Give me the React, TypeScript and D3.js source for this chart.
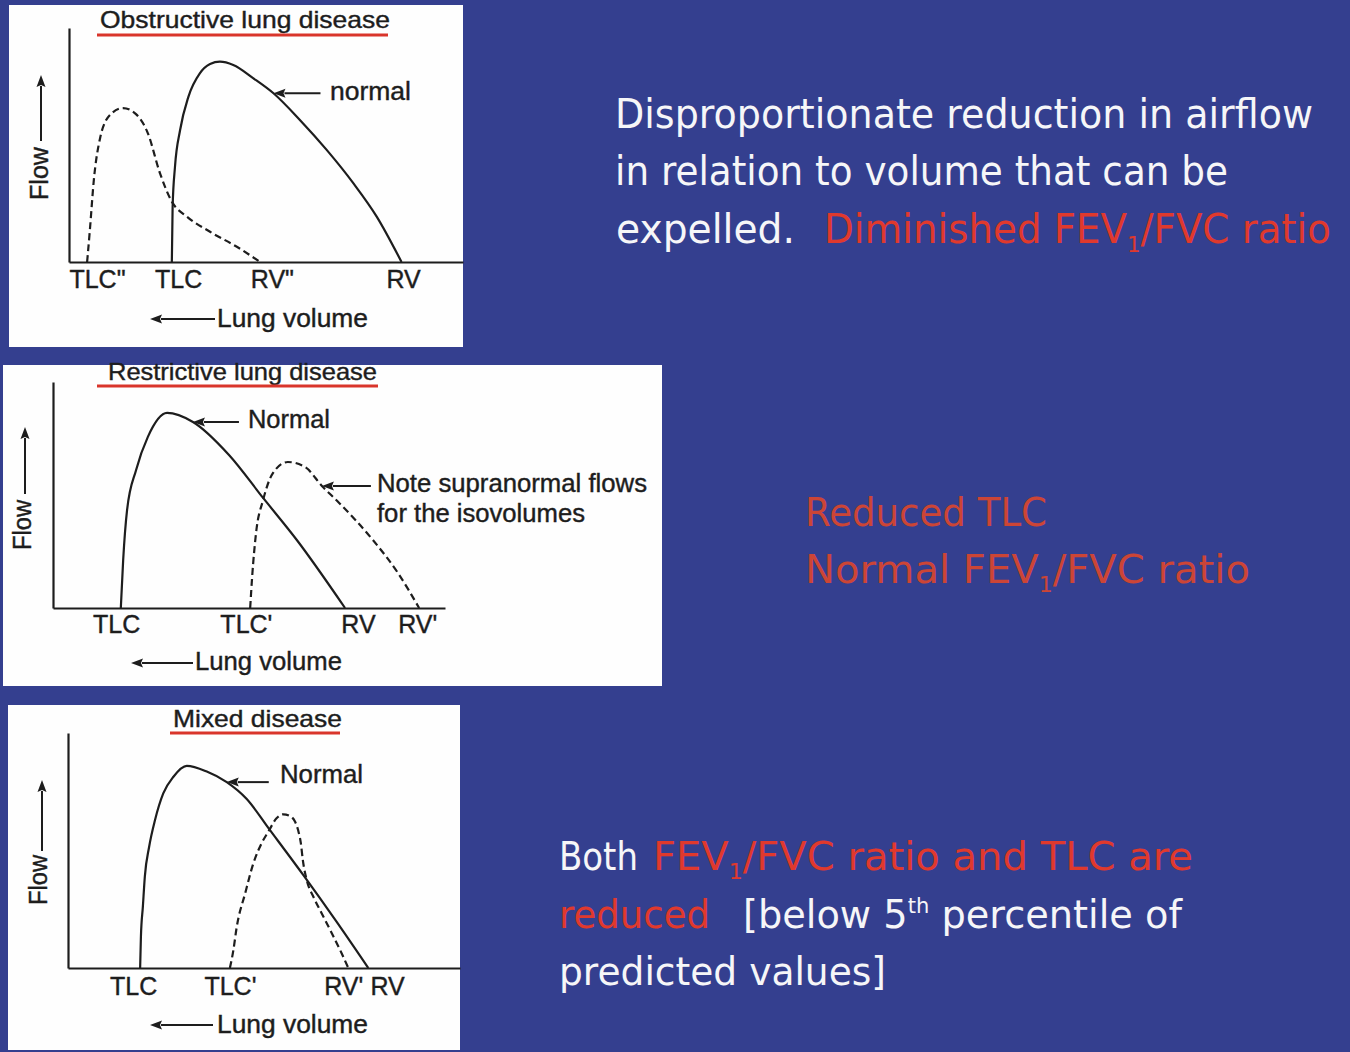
import React, { useRef, useEffect } from 'react';
import * as d3 from 'd3';

const W = 1350;
const H = 1052;
const BG = '#343f8f';
const INK = '#1d1d1d';
const UNDERLINE = '#d9352b';
const WHITE = '#f6f6f8';
const RED = '#e0392d';
const RED_DULL = '#cc4536';
const PANEL_FONT = "'Liberation Sans', Arial, sans-serif";
const SLIDE_FONT = "'DejaVu Sans', sans-serif";

// obstructive lung disease (volume / flow in % of axis)
const obstructiveNormalVolume = [26.1, 26.3, 26.9, 28.2, 30.3, 33.2, 35.8, 38.3, 41.7, 46.8, 51.9, 58.6, 65.4, 72.2, 78.1, 84.4];
const obstructiveNormalFlow = [0, 23.6, 40.7, 56.4, 70.6, 80.6, 84.6, 85.6, 84.2, 78.5, 72.1, 60.7, 47.9, 33.6, 19.4, 0];
const obstructiveVolume = [4.6, 5.3, 6.3, 7.9, 10.4, 13.7, 17.0, 20.0, 23.1, 26.1, 29.9, 35.8, 42.6, 48.5];
const obstructiveFlow = [0, 13.7, 35.0, 53.0, 62.8, 65.8, 63.2, 55.1, 37.9, 25.8, 19.4, 12.9, 6.5, 0];
const obstructiveTickLabels = ['TLC"', 'TLC', 'RV"', 'RV'];
const obstructiveTickVolume = [7.1, 27.7, 51.5, 84.8];

// restrictive lung disease
const restrictiveNormalVolume = [17.3, 17.9, 18.9, 21.2, 24.2, 29.1, 35.7, 44.9, 53.6, 62.2, 74.5];
const restrictiveNormalFlow = [0, 21.2, 43.4, 61.1, 75.7, 86.3, 82.3, 67.7, 48.7, 30.1, 0];
const restrictiveVolume = [50.3, 50.8, 51.8, 53.6, 56.1, 59.9, 64.3, 68.6, 73.0, 81.6, 88.0, 93.4];
const restrictiveFlow = [0, 13.7, 33.2, 47.8, 59.7, 64.6, 62.4, 54.0, 46.5, 30.1, 15.5, 0];
const restrictiveTickLabels = ['TLC', "TLC'", 'RV', "RV'"];
const restrictiveTickVolume = [16.1, 49.2, 77.8, 92.9];

// mixed disease
const mixedNormalVolume = [18.4, 18.6, 19.1, 19.6, 20.7, 22.2, 24.3, 26.9, 30.3, 35.4, 40.5, 45.6, 51.1, 60.0, 68.5, 76.6];
const mixedNormalFlow = [0, 13.3, 26.1, 38.9, 51.6, 63.0, 74.3, 81.4, 86.0, 83.6, 79.1, 71.9, 59.6, 39.6, 19.7, 0];
const mixedVolume = [41.3, 42.2, 43.0, 45.2, 47.3, 49.4, 51.1, 53.2, 54.9, 56.6, 57.9, 58.7, 59.4, 59.9, 60.9, 62.6, 64.7, 67.3, 69.8, 71.5];
const mixedFlow = [0, 7.7, 17.0, 31.8, 44.6, 53.1, 58.0, 63.7, 65.4, 64.7, 62.3, 58.7, 53.1, 46.0, 37.4, 30.3, 23.3, 14.8, 6.3, 0];
const mixedTickLabels = ['TLC', "TLC'", "RV'", 'RV'];
const mixedTickVolume = [16.6, 41.3, 70.2, 81.4];

type Note = { at: [number, number]; shaft: number; lines: string[]; tx: number; ty: number; w: number[] };

const panels = [
  {
    box: [9, 5, 454, 342], left: 69, right: 463, bottom: 262, top: 28, tickPad: 8,
    normal: [obstructiveNormalVolume, obstructiveNormalFlow],
    disease: [obstructiveVolume, obstructiveFlow],
    tickLabels: obstructiveTickLabels, tickVolume: obstructiveTickVolume,
    title: 'Obstructive lung disease', titleX: 100, titleY: 28, titleW: 290, ul: [97, 388, 35],
    notes: [{ at: [51.9, 72.1], shaft: 47, lines: ['normal'], tx: 330, ty: 100, w: [81] }] as Note[],
    lung: { tip: 150, tail: 215, y: 319, tx: 217, ty: 327, w: 151 },
    flow: { x: 48, y: 200, w: 53, ax: 41, a0: 141, a1: 75 },
  },
  {
    box: [3, 365, 659, 321], left: 53, right: 445, bottom: 608, top: 382, tickPad: 7,
    normal: [restrictiveNormalVolume, restrictiveNormalFlow],
    disease: [restrictiveVolume, restrictiveFlow],
    tickLabels: restrictiveTickLabels, tickVolume: restrictiveTickVolume,
    title: 'Restrictive lung disease', titleX: 108, titleY: 380, titleW: 269, ul: [97, 378, 386],
    notes: [
      { at: [35.7, 82.3], shaft: 46, lines: ['Normal'], tx: 248, ty: 428, w: [82] },
      { at: [68.6, 54.0], shaft: 49, lines: ['Note supranormal flows', 'for the isovolumes'], tx: 377, ty: 492, w: [270, 208] },
    ] as Note[],
    lung: { tip: 131, tail: 193, y: 663, tx: 195, ty: 670, w: 147 },
    flow: { x: 31, y: 550, w: 50, ax: 25, a0: 494, a1: 427 },
  },
  {
    box: [8, 705, 452, 345], left: 68, right: 460, bottom: 968, top: 733, tickPad: 9,
    normal: [mixedNormalVolume, mixedNormalFlow],
    disease: [mixedVolume, mixedFlow],
    tickLabels: mixedTickLabels, tickVolume: mixedTickVolume,
    title: 'Mixed disease', titleX: 173, titleY: 727, titleW: 169, ul: [170, 340, 733],
    notes: [{ at: [40.5, 79.1], shaft: 42, lines: ['Normal'], tx: 280, ty: 783, w: [83] }] as Note[],
    lung: { tip: 150, tail: 213, y: 1025, tx: 217, ty: 1033, w: 151 },
    flow: { x: 47, y: 905, w: 50, ax: 42, a0: 851, a1: 780 },
  },
];

type Part = [string, string?];
type Seg = { x: number; w: number; fill: string; parts: Part[] };

const slideLines: { y: number; size: number; segs: Seg[] }[] = [
  { y: 128, size: 40, segs: [{ x: 615, w: 698, fill: WHITE, parts: [['Disproportionate reduction in airflow']] }] },
  { y: 185, size: 40, segs: [{ x: 615, w: 613, fill: WHITE, parts: [['in relation to volume that can be']] }] },
  {
    y: 243, size: 40, segs: [
      { x: 616, w: 179, fill: WHITE, parts: [['expelled.']] },
      { x: 824, w: 507, fill: RED, parts: [['Diminished FEV'], ['1', 'sub'], ['/FVC ratio']] },
    ],
  },
  { y: 526, size: 39, segs: [{ x: 805, w: 242, fill: RED_DULL, parts: [['Reduced TLC']] }] },
  { y: 583, size: 39, segs: [{ x: 805, w: 445, fill: RED_DULL, parts: [['Normal FEV'], ['1', 'sub'], ['/FVC ratio']] }] },
  {
    y: 870, size: 39, segs: [
      { x: 559, w: 79, fill: WHITE, parts: [['Both']] },
      { x: 653, w: 540, fill: RED, parts: [['FEV'], ['1', 'sub'], ['/FVC ratio and TLC are']] },
    ],
  },
  {
    y: 928, size: 39, segs: [
      { x: 559, w: 151, fill: RED, parts: [['reduced']] },
      { x: 743, w: 439, fill: WHITE, parts: [['[below 5'], ['th', 'sup'], [' percentile of']] },
    ],
  },
  { y: 985, size: 39, segs: [{ x: 559, w: 327, fill: WHITE, parts: [['predicted values]']] }] },
];

function arrow(g: d3.Selection<SVGGElement, unknown, null, undefined>, x1: number, y1: number, x2: number, y2: number) {
  // tail (x1,y1) -> tip (x2,y2)
  const len = Math.hypot(x2 - x1, y2 - y1);
  const ux = (x2 - x1) / len;
  const uy = (y2 - y1) / len;
  const hl = 12;
  const hw = 4.5;
  const bx = x2 - ux * hl;
  const by = y2 - uy * hl;
  g.append('line').attr('x1', x1).attr('y1', y1).attr('x2', bx + ux).attr('y2', by + uy)
    .attr('stroke', INK).attr('stroke-width', 2);
  g.append('path')
    .attr('d', `M${x2},${y2}L${bx - uy * hw},${by + ux * hw}L${bx + ux * 2},${by + uy * 2}L${bx + uy * hw},${by - ux * hw}Z`)
    .attr('fill', INK);
}

function App() {
  const svgRef = useRef<SVGSVGElement | null>(null);

  useEffect(() => {
    const svg = d3.select(svgRef.current);
    svg.selectAll('*').remove();
    svg.append('rect').attr('width', W).attr('height', H).attr('fill', BG);

    panels.forEach((p) => {
      const g = svg.append('g');
      g.append('rect').attr('x', p.box[0]).attr('y', p.box[1]).attr('width', p.box[2]).attr('height', p.box[3]).attr('fill', '#fefefe');

      const x = d3.scaleLinear().domain([0, 100]).range([p.left, p.right]);
      const y = d3.scaleLinear().domain([0, 100]).range([p.bottom, p.top]);

      const xAxis = d3.axisBottom(x)
        .tickValues(p.tickVolume)
        .tickFormat((_, i) => p.tickLabels[i])
        .tickSize(0)
        .tickSizeOuter(0)
        .tickPadding(p.tickPad);
      g.append('g').attr('transform', `translate(0,${p.bottom})`).call(xAxis)
        .call((a) => a.select('.domain').attr('stroke', INK).attr('stroke-width', 2.2))
        .call((a) => a.selectAll('text').attr('font-size', 25).attr('font-family', PANEL_FONT).attr('fill', INK)
          .attr('stroke', INK).attr('stroke-width', 0.4));

      const yAxis = d3.axisLeft(y).tickValues([]).tickSizeOuter(0);
      g.append('g').attr('transform', `translate(${p.left},0)`).call(yAxis)
        .call((a) => a.select('.domain').attr('stroke', INK).attr('stroke-width', 2.2));

      const line = d3.line<[number, number]>()
        .x((d) => x(d[0]))
        .y((d) => y(d[1]))
        .curve(d3.curveMonotoneX);

      g.append('path').datum(d3.zip(p.normal[0], p.normal[1]) as [number, number][])
        .attr('d', line).attr('fill', 'none').attr('stroke', INK).attr('stroke-width', 2.2);
      g.append('path').datum(d3.zip(p.disease[0], p.disease[1]) as [number, number][])
        .attr('d', line).attr('fill', 'none').attr('stroke', INK).attr('stroke-width', 2.2)
        .attr('stroke-dasharray', '7,4');

      const label = (sel: d3.Selection<SVGTextElement, unknown, null, undefined>) =>
        sel.attr('font-family', PANEL_FONT).attr('fill', INK).attr('stroke', INK).attr('stroke-width', 0.4)
          .attr('lengthAdjust', 'spacingAndGlyphs');

      // title with red underline
      g.append('text').attr('x', p.titleX).attr('y', p.titleY).text(p.title)
        .attr('font-size', 24).attr('textLength', p.titleW).call(label);
      g.append('line').attr('x1', p.ul[0]).attr('x2', p.ul[1]).attr('y1', p.ul[2]).attr('y2', p.ul[2])
        .attr('stroke', UNDERLINE).attr('stroke-width', 3);

      // annotations
      p.notes.forEach((n) => {
        const tx = x(n.at[0]);
        const ty = y(n.at[1]);
        arrow(g, tx + n.shaft, ty, tx, ty);
        n.lines.forEach((l, i) => {
          g.append('text').attr('x', n.tx).attr('y', n.ty + i * 30).text(l)
            .attr('font-size', 25).attr('textLength', n.w[i]).call(label);
        });
      });

      // lung volume label
      arrow(g, p.lung.tail, p.lung.y, p.lung.tip, p.lung.y);
      g.append('text').attr('x', p.lung.tx).attr('y', p.lung.ty).text('Lung volume')
        .attr('font-size', 25).attr('textLength', p.lung.w).call(label);

      // flow label
      arrow(g, p.flow.ax, p.flow.a0, p.flow.ax, p.flow.a1);
      g.append('text').attr('transform', `translate(${p.flow.x},${p.flow.y}) rotate(-90)`).text('Flow')
        .attr('font-size', 25).attr('textLength', p.flow.w).call(label);
    });

    // slide text
    slideLines.forEach((ln) => {
      ln.segs.forEach((s) => {
        const t = svg.append('text').attr('x', s.x).attr('y', ln.y)
          .attr('font-family', SLIDE_FONT).attr('font-size', ln.size).attr('fill', s.fill)
          .attr('textLength', s.w).attr('lengthAdjust', 'spacingAndGlyphs');
        let shift = 0;
        s.parts.forEach(([str, kind]) => {
          const target = kind === 'sub' ? 9 : kind === 'sup' ? -15 : 0;
          const ts = t.append('tspan').text(str).attr('dy', target - shift);
          if (kind) ts.attr('font-size', ln.size * 0.55);
          shift = target;
        });
      });
    });
  }, []);

  return (
    <svg
      ref={svgRef}
      width={W}
      height={H}
      style={{ position: 'absolute', left: 0, top: 0, display: 'block' }}
    />
  );
}

export default App;
